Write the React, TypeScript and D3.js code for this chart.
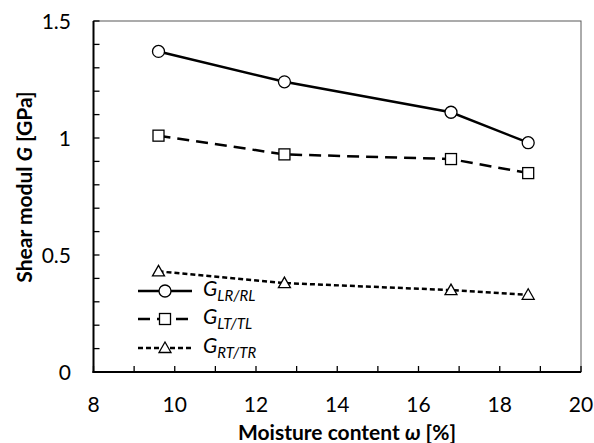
import * as React from 'react';
import * as d3 from 'd3';

const moisture = [9.6, 12.7, 16.8, 18.7];
const gLR = [1.37, 1.24, 1.11, 0.98];
const gLT = [1.01, 0.93, 0.91, 0.85];
const gRT = [0.43, 0.38, 0.35, 0.33];
const xTicks = [8, 10, 12, 14, 16, 18, 20];
const yTicks = [0, 0.5, 1, 1.5];

const seriesList = [
	{name: 'LR/RL', values: gLR, dash: null, marker: 'circle'},
	{name: 'LT/TL', values: gLT, dash: '12,7', marker: 'square'},
	{name: 'RT/TR', values: gRT, dash: '5,3', marker: 'triangle'},
];

const W = 594, H = 443;
const margin = {left: 93.5, right: 13, top: 21, bottom: 71};
const FONT = 'Lato, "Open Sans", sans-serif';

const drawMarker = (g, type, x, y) => {
	if (type === 'circle') {
		g.append('circle').attr('cx', x).attr('cy', y).attr('r', 6)
			.attr('fill', '#fff').attr('stroke', '#000').attr('stroke-width', 1.3);
	} else if (type === 'square') {
		g.append('rect').attr('x', x - 5.5).attr('y', y - 5.5).attr('width', 11).attr('height', 11)
			.attr('fill', '#fff').attr('stroke', '#000').attr('stroke-width', 1.3);
	} else {
		g.append('path')
			.attr('d', `M${x},${y - 6}L${x + 6},${y + 4.5}L${x - 6},${y + 4.5}Z`)
			.attr('fill', '#fff').attr('stroke', '#000').attr('stroke-width', 1.3);
	}
};

const update = (svgNode) => {
	const svg = d3.select(svgNode);
	svg.html('');

	const x = d3.scaleLinear().domain([8, 20]).range([margin.left, W - margin.right]);
	const y = d3.scaleLinear().domain([0, 1.5]).range([H - margin.bottom, margin.top]);

	// plot area border (top/right grey)
	svg.append('rect')
		.attr('x', x(8)).attr('y', y(1.5))
		.attr('width', x(20) - x(8)).attr('height', y(0) - y(1.5))
		.attr('fill', 'none').attr('stroke', '#595959').attr('stroke-width', 1);

	// minor ticks, inside
	const g = svg.append('g');
	d3.range(0, 16).forEach(i => {
		const v = i / 10;
		g.append('line').attr('x1', x(8)).attr('x2', x(8) + 6)
			.attr('y1', y(v)).attr('y2', y(v)).attr('stroke', '#000').attr('stroke-width', 1.3);
	});
	d3.range(8, 21).forEach(v => {
		g.append('line').attr('x1', x(v)).attr('x2', x(v))
			.attr('y1', y(0)).attr('y2', y(0) - 6).attr('stroke', '#000').attr('stroke-width', 1.3);
	});

	// axes lines
	g.append('line').attr('x1', x(8)).attr('x2', x(8)).attr('y1', y(0) + 1).attr('y2', y(1.5))
		.attr('stroke', '#000').attr('stroke-width', 2);
	g.append('line').attr('x1', x(8) - 1).attr('x2', x(20)).attr('y1', y(0)).attr('y2', y(0))
		.attr('stroke', '#000').attr('stroke-width', 2);

	// tick labels
	yTicks.forEach(v => {
		svg.append('text').attr('x', 71).attr('y', y(v)).attr('dy', '0.36em')
			.attr('text-anchor', 'end').attr('font-family', FONT).attr('font-size', 21)
			.attr('fill', '#000').text(String(v));
	});
	xTicks.forEach(v => {
		svg.append('text').attr('x', x(v)).attr('y', 412)
			.attr('text-anchor', 'middle').attr('font-family', FONT).attr('font-size', 21)
			.attr('fill', '#000').text(String(v));
	});

	// axis titles
	const xt = svg.append('text').attr('x', 347).attr('y', 440).attr('text-anchor', 'middle')
		.attr('font-family', FONT).attr('font-size', 21).attr('font-weight', 'bold');
	xt.append('tspan').text('Moisture content ');
	xt.append('tspan').attr('font-style', 'italic').text('ω');
	xt.append('tspan').text(' [%]');

	const yt = svg.append('text').attr('transform', 'translate(32,187) rotate(-90)')
		.attr('text-anchor', 'middle')
		.attr('font-family', FONT).attr('font-size', 21).attr('font-weight', 'bold');
	yt.append('tspan').text('Shear modul ');
	yt.append('tspan').attr('font-style', 'italic').text('G');
	yt.append('tspan').text(' [GPa]');

	// series
	const line = d3.line<number>().x((d, i) => x(moisture[i])).y(d => y(d));
	seriesList.forEach(s => {
		const p = svg.append('path').attr('d', line(s.values)).attr('fill', 'none')
			.attr('stroke', '#000').attr('stroke-width', 2.5);
		if (s.dash) p.attr('stroke-dasharray', s.dash);
		const mg = svg.append('g');
		s.values.forEach((v, i) => drawMarker(mg, s.marker, x(moisture[i]), y(v)));
	});

	// legend
	const legendY = [291, 319, 348];
	seriesList.forEach((s, i) => {
		const ly = legendY[i];
		const p = svg.append('line').attr('x1', 138).attr('x2', 192).attr('y1', ly).attr('y2', ly)
			.attr('stroke', '#000').attr('stroke-width', 2.5);
		if (s.dash) p.attr('stroke-dasharray', s.dash);
		drawMarker(svg.append('g'), s.marker, 165, ly);
		const t = svg.append('text').attr('x', 203).attr('y', ly + 5)
			.attr('font-family', FONT).attr('font-size', 21).attr('font-style', 'italic');
		t.append('tspan').text('G');
		t.append('tspan').attr('font-size', 15).attr('dy', 5).text(s.name);
	});
};

const App = () => {
	const ref = React.useRef(null);
	React.useEffect(() => {
		document.body.style.margin = '0';
		update(ref.current);
	}, []);
	return <svg ref={ref} width={W} height={H} style={{display: 'block', background: '#fff'}} />;
};

export default App;
